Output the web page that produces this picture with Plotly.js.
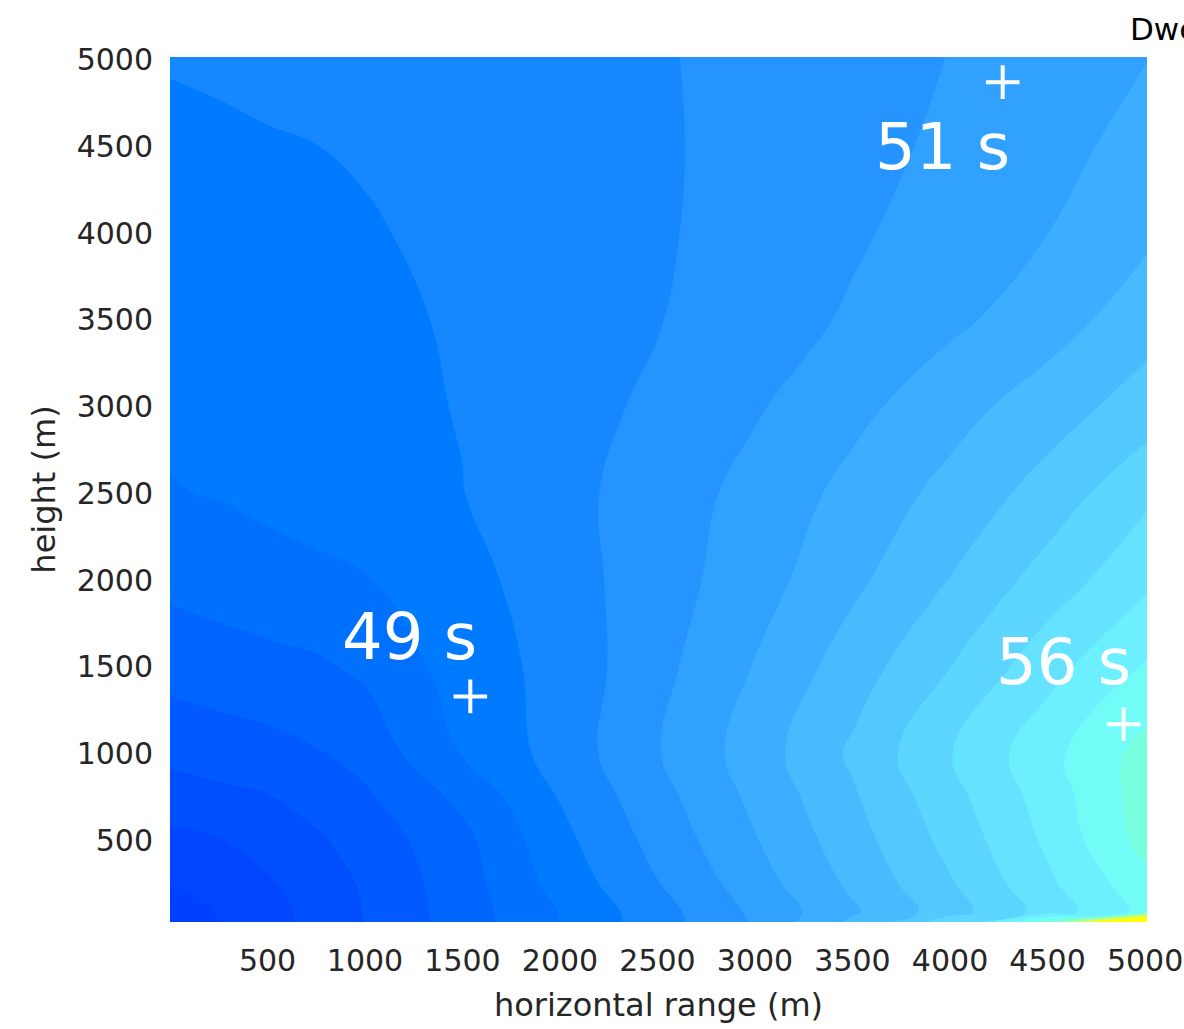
<!DOCTYPE html>
<html>
<head>
<meta charset="utf-8">
<script src="https://cdn.plot.ly/plotly-3.0.1.min.js"></script>
<style>
html, body { margin: 0; padding: 0; background: #ffffff; }
#chart { width: 1184px; height: 1029px; }
</style>
</head>
<body>
<div id="chart"></div>
<script>
// horizontal range (m) of the grid columns
const horizontalRange = [0, 250, 500, 750, 1000, 1500, 2000, 2500, 3000, 3500, 4000, 4500, 5010];
// height (m) of the grid rows
const heightRows = [30, 90, 250, 500, 750, 1000, 1500, 2000, 2500, 3000, 3500, 4000, 4500, 5015];
// dwell time (s), one row per height
const dwellTime = [
  [44.87, 45.33, 45.77, 46.21, 46.68, 47.67, 48.68, 49.70, 50.75, 52.13, 53.73, 56.33, 63.33],
  [44.93, 45.37, 45.78, 46.21, 46.69, 47.67, 48.69, 49.73, 50.80, 51.90, 53.03, 54.27, 55.57],
  [45.33, 45.63, 45.92, 46.31, 46.75, 47.71, 48.91, 49.97, 51.03, 52.13, 53.27, 54.53, 55.80],
  [45.84, 45.97, 46.24, 46.57, 46.95, 47.81, 49.14, 50.22, 51.29, 52.38, 53.54, 54.79, 56.27],
  [46.35, 46.49, 46.63, 46.91, 47.23, 48.17, 49.37, 50.43, 51.49, 52.58, 53.77, 54.96, 56.33],
  [46.83, 46.98, 47.10, 47.28, 47.57, 48.70, 49.59, 50.63, 51.65, 52.78, 53.97, 55.12, 56.27],
  [47.59, 47.70, 47.81, 47.91, 48.12, 48.97, 49.56, 50.47, 51.37, 52.33, 53.33, 54.42, 55.40],
  [48.16, 48.28, 48.39, 48.51, 48.63, 49.10, 49.71, 50.35, 51.05, 51.85, 52.69, 53.62, 54.53],
  [48.63, 48.70, 48.83, 48.95, 49.07, 49.32, 49.79, 50.31, 50.88, 51.53, 52.21, 52.93, 53.87],
  [48.80, 48.89, 48.98, 49.07, 49.17, 49.36, 49.73, 50.13, 50.60, 51.15, 51.73, 52.35, 52.97],
  [48.94, 49.01, 49.08, 49.15, 49.22, 49.39, 49.67, 49.97, 50.35, 50.75, 51.20, 51.67, 52.40],
  [49.08, 49.13, 49.18, 49.23, 49.29, 49.45, 49.69, 49.93, 50.24, 50.58, 50.95, 51.33, 51.87],
  [49.22, 49.25, 49.29, 49.33, 49.38, 49.56, 49.75, 49.93, 50.18, 50.47, 50.78, 51.15, 51.53],
  [49.37, 49.41, 49.47, 49.52, 49.57, 49.67, 49.80, 49.95, 50.17, 50.41, 50.68, 51.00, 51.32]
];
// contour band colours, lowest band first
const bandColors = [
  '#0040ff', '#0046ff', '#004fff', '#005aff', '#0065ff', '#0070ff', '#007bff',
  '#1688ff', '#2594ff', '#31a1ff', '#3daeff', '#48bbff', '#52c8ff', '#5cd5ff',
  '#65e2ff', '#6cf0ff', '#72fcf8', '#78ffe0', '#8effc0', '#aaff98', '#c8ff70',
  '#e8ff40', '#ffff00'
];
// marked points and their labels
const markerX = [1540, 4270, 4890];
const markerY = [1330, 4870, 1170];
const labelText = ['49 s', '51 s', '56 s'];
const labelX = [1228, 3961, 4580];
const labelY = [1670, 4499, 1526];
const xTicks = [500, 1000, 1500, 2000, 2500, 3000, 3500, 4000, 4500, 5000];
const yTicks = [500, 1000, 1500, 2000, 2500, 3000, 3500, 4000, 4500, 5000];

const FONT = '"DejaVu Sans", "Liberation Sans", Arial, sans-serif';
const TXT = '#262626';

const nBands = bandColors.length - 1;
const colorscale = bandColors.map((c, i) => [i / nBands, c]);

const contourTrace = {
  type: 'contour',
  x: horizontalRange,
  y: heightRows,
  z: dwellTime,
  autocontour: false,
  contours: { start: 136 / 3, end: 178 / 3, size: 2 / 3, coloring: 'fill', showlines: false },
  line: { width: 0, smoothing: 1.3 },
  colorscale: colorscale,
  showscale: false,
  hoverinfo: 'skip'
};

const markerTrace = {
  type: 'scatter',
  mode: 'markers',
  x: markerX,
  y: markerY,
  marker: { symbol: 'cross-thin', size: 24, color: '#ffffff', line: { color: '#ffffff', width: 4 } },
  hoverinfo: 'skip',
  showlegend: false
};

const annotations = labelText.map((t, i) => ({
  x: labelX[i], y: labelY[i], xref: 'x', yref: 'y',
  text: t, showarrow: false,
  xanchor: 'center', yanchor: 'middle',
  font: { family: FONT, size: 64, color: '#ffffff' }
}));
annotations.push({
  x: (1128 - 170) / 977, y: 1 + (57 - 29) / 865, xref: 'paper', yref: 'paper',
  text: 'Dwell time (s)', showarrow: false, xanchor: 'left', yanchor: 'middle',
  font: { family: FONT, size: 31, color: '#000000' }
});

const layout = {
  width: 1184,
  height: 1029,
  margin: { l: 170, r: 37, t: 57, b: 107, pad: 0 },
  paper_bgcolor: '#ffffff',
  plot_bgcolor: '#ffffff',
  showlegend: false,
  font: { family: FONT, color: TXT },
  xaxis: {
    range: [0, 5010],
    tickvals: xTicks,
    ticktext: xTicks.map(String),
    ticks: '',
    showgrid: false, zeroline: false, showline: false,
    tickfont: { family: FONT, size: 30, color: TXT },
    ticklabelstandoff: 18,
    title: { text: 'horizontal range (m)', font: { family: FONT, size: 32, color: TXT }, standoff: 16 },
    automargin: false
  },
  yaxis: {
    range: [30, 5015],
    tickvals: yTicks,
    ticktext: yTicks.map(String),
    ticks: '',
    showgrid: false, zeroline: false, showline: false,
    tickfont: { family: FONT, size: 30, color: TXT },
    ticklabelstandoff: 16,
    title: { text: 'height (m)', font: { family: FONT, size: 32, color: TXT }, standoff: 11 },
    automargin: false
  },
  annotations: annotations
};

Plotly.newPlot('chart', [contourTrace, markerTrace], layout, { staticPlot: true, displayModeBar: false });
</script>
</body>
</html>
